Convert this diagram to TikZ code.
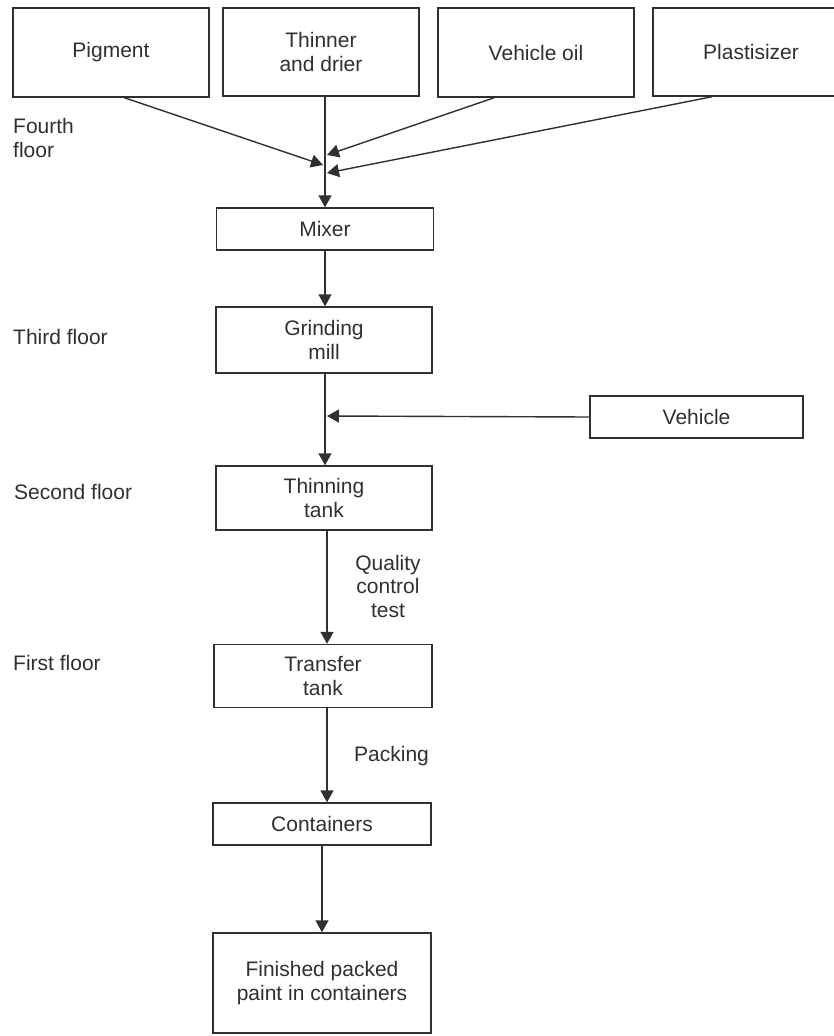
\documentclass[tikz,border=0pt]{standalone}
\usepackage{fontspec}
\setmainfont{Liberation Sans}
\usetikzlibrary{arrows.meta}
\definecolor{ink}{HTML}{303030}
\begin{document}
\begin{tikzpicture}[x=1pt,y=-1pt,
  box/.style={draw=ink, line width=1.4pt, inner sep=0pt, align=center, text=ink,
    font=\fontsize{21}{23.5}\selectfont},
  lbl/.style={inner sep=0pt, text=ink, align=left, font=\fontsize{21}{23.5}\selectfont},
  flow/.style={draw=ink, line width=1.4pt, -{Triangle[length=12pt,width=13pt]}}]
\useasboundingbox (0,0) rectangle (834,1036);
\fill[white] (0,0) rectangle (834,1036);

% top inputs
\node[box, minimum width=196pt, minimum height=89pt] (pig) at (111,52.5) {Pigment};
\node[box, minimum width=196pt, minimum height=88pt] (thn) at (321,52) {Thinner\\and drier};
\node[box, minimum width=196pt, minimum height=89pt] (voil) at (536,52.5) {Vehicle oil};
\node[box, minimum width=196pt, minimum height=88pt] (pla) at (751,52) {Plastisizer};

% main column
\node[box, minimum width=217pt, minimum height=42pt] (mix) at (325,229) {Mixer};
\node[box, minimum width=216pt, minimum height=66pt] (grd) at (324,340) {Grinding\\mill};
\node[box, minimum width=213pt, minimum height=42pt] (veh) at (696.5,417) {Vehicle};
\node[box, minimum width=216pt, minimum height=64pt] (thk) at (324,498) {Thinning\\tank};
\node[box, minimum width=218pt, minimum height=63pt] (trk) at (323,676) {Transfer\\tank};
\node[box, minimum width=218pt, minimum height=42pt] (con) at (322,824) {Containers};
\node[box, minimum width=218pt, minimum height=100pt] (fin) at (322,983) {Finished packed\\paint in containers};

% floor labels
\node[lbl, anchor=west] (f4) at (13,138) {Fourth\\floor};
\node[lbl, anchor=west] (f3) at (13,337) {Third floor};
\node[lbl, anchor=west] (f2) at (14,492) {Second floor};
\node[lbl, anchor=west] (f1) at (13,663) {First floor};

% edge labels
\node[lbl, align=center] (qc) at (388,586) {Quality\\control\\test};
\node[lbl, anchor=west] (pk) at (354,756) {Packing};

% junction points on the feed line
\coordinate (jp) at (323,165);
\coordinate (jv) at (327,155);
\coordinate (jl) at (327,173);
\coordinate (jh) at (327,416);

% connectors
\draw[flow] ([xshift=4pt]thn.south) -- ([xshift=4pt]thn.south |- mix.north);
\draw[flow] ([xshift=112pt]pig.south west) -- (jp);
\draw[flow] ([xshift=57pt]voil.south west) -- (jv);
\draw[flow] ([xshift=60pt]pla.south west) -- (jl);
\draw[flow] (mix.south) -- (mix.south |- grd.north);
\draw[flow] ([xshift=1pt]grd.south) -- ([xshift=1pt]grd.south |- thk.north);
\draw[flow] (veh.west) -- (jh);
\draw[flow] ([xshift=3pt]thk.south) -- ([xshift=3pt]thk.south |- trk.north);
\draw[flow] ([xshift=4pt]trk.south) -- ([xshift=4pt]trk.south |- con.north);
\draw[flow] (con.south) -- (fin.north);
\end{tikzpicture}
\end{document}
